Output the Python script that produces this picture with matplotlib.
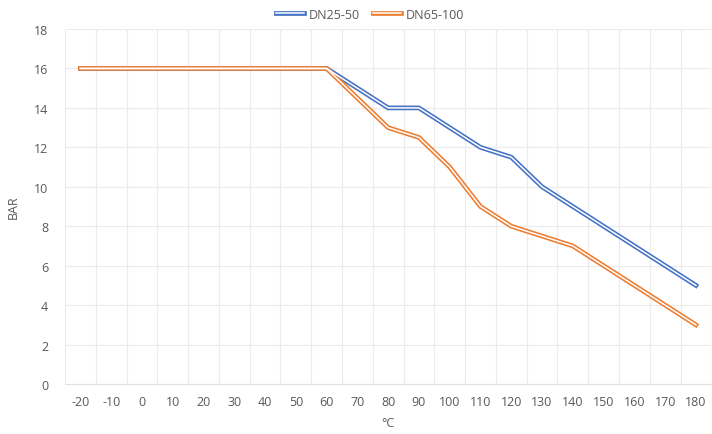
import numpy as np
import matplotlib.pyplot as plt
from matplotlib.lines import Line2D
from matplotlib.legend_handler import HandlerTuple

plt.rcParams['font.family'] = ['Open Sans', 'DejaVu Sans']

# Datos
temperaturas = [-20, -10, 0, 10, 20, 30, 40, 50, 60, 70, 80, 90, 100,
                110, 120, 130, 140, 150, 160, 170, 180]
dn25_50 = [16, 16, 16, 16, 16, 16, 16, 16, 16, 15, 14, 14, 13,
           12, 11.5, 10, 9, 8, 7, 6, 5]
dn65_100 = [16, 16, 16, 16, 16, 16, 16, 16, 16, 14.5, 13, 12.5, 11,
            9, 8, 7.5, 7, 6, 5, 4, 3]

azul = '#4472C4'
naranja = '#ED7D31'
gris = '#595959'

fig = plt.figure(figsize=(7.12, 4.35), dpi=100)
ax = fig.add_axes([0.0913, 0.115, 0.9077, 0.816])

x = np.arange(len(temperaturas))

# Línea doble: trazo grueso de color con trazo blanco fino encima
for serie, color in [(dn25_50, azul), (dn65_100, naranja)]:
    ax.plot(x, serie, color=color, lw=3.4, solid_joinstyle='miter', zorder=3)
    ax.plot(x, serie, color='white', lw=1.1, solid_joinstyle='miter', zorder=4)

ax.set_xlim(-0.5, len(temperaturas) - 0.5)
ax.set_ylim(0, 18)
ax.set_yticks(np.arange(0, 19, 2))
ax.set_xticks(x)
ax.set_xticklabels([str(t) for t in temperaturas])
ax.set_xticks(np.arange(-0.5, len(temperaturas), 1), minor=True)

ax.grid(True, axis='y', color='#EBEBEB', lw=0.8, zorder=0)
ax.grid(True, axis='x', which='minor', color='#EBEBEB', lw=0.8, zorder=0)
for s in ['top', 'right', 'left']:
    ax.spines[s].set_visible(False)
ax.spines['bottom'].set_color('#E0E0E0')
ax.tick_params(axis='both', which='both', length=0, colors=gris, labelsize=9)
ax.tick_params(axis='y', pad=12)
ax.tick_params(axis='x', pad=8)

ax.set_xlabel('°C', color=gris, fontsize=9, labelpad=6)
ax.set_ylabel('BAR', color=gris, fontsize=9, labelpad=10)

# Leyenda con muestras de línea doble
h1 = (Line2D([], [], color=azul, lw=3.4), Line2D([], [], color='white', lw=1.1))
h2 = (Line2D([], [], color=naranja, lw=3.4), Line2D([], [], color='white', lw=1.1))
fig.legend([h1, h2], ['DN25-50', 'DN65-100'],
           handler_map={tuple: HandlerTuple(ndivide=1, pad=0)},
           loc='center', bbox_to_anchor=(0.52, 0.965), ncol=2, frameon=False,
           fontsize=9, labelcolor=gris, handlelength=2.2, columnspacing=1.1,
           handletextpad=0.4)

fig.savefig('out.png', dpi=100)
